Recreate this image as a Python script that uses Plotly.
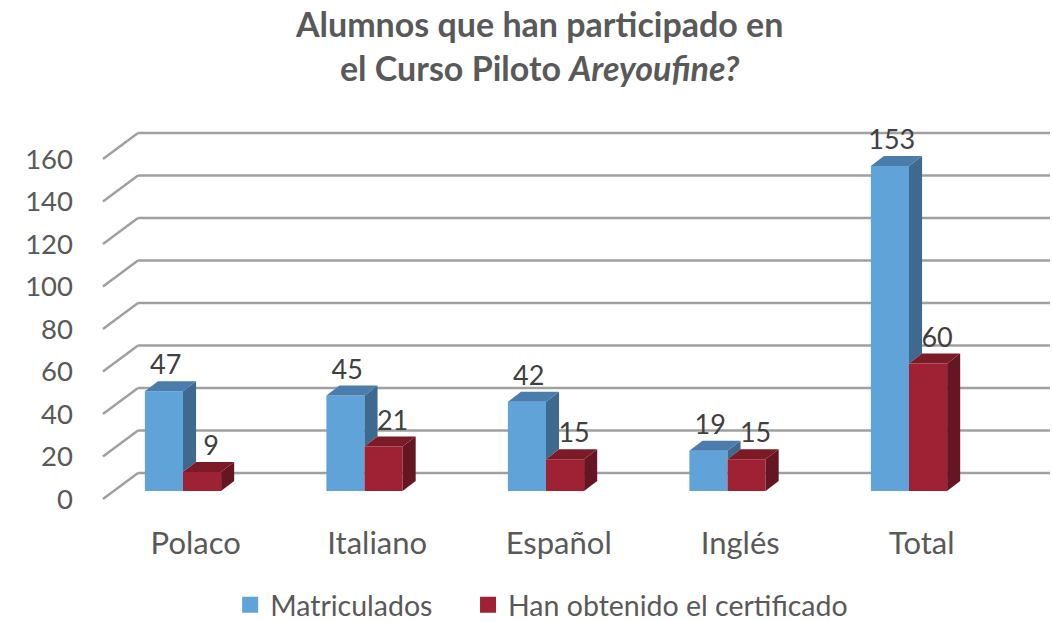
import plotly.graph_objects as go

categories = ["Polaco", "Italiano", "Español", "Inglés", "Total"]
matriculados = [47, 45, 42, 19, 153]
certificado = [9, 21, 15, 15, 60]
y_ticks = [0, 20, 40, 60, 80, 100, 120, 140, 160]
series_names = ["Matriculados", "Han obtenido el certificado"]

FONT = "Lato"
BLUE, BLUE_SIDE, BLUE_TOP = "#5FA3D9", "#3F6A8F", "#4A7DAB"
RED, RED_SIDE, RED_TOP = "#9E2233", "#661622", "#7C1A26"

W = 0.21      # bar width (category units)
DX = 0.072    # depth offset in x
DY = 4.7      # depth offset in y (value units)
xs = list(range(len(categories)))

fig = go.Figure()

# front faces
fig.add_trace(go.Bar(x=xs, y=matriculados, width=W, offset=-W, marker=dict(color=BLUE, line=dict(width=0)),
                     showlegend=False, hoverinfo="skip"))
fig.add_trace(go.Bar(x=xs, y=certificado, width=W, offset=0, marker=dict(color=RED, line=dict(width=0)),
                     showlegend=False, hoverinfo="skip"))


def poly(pts, color):
    px = [p[0] for p in pts] + [pts[0][0]]
    py = [p[1] for p in pts] + [pts[0][1]]
    fig.add_trace(go.Scatter(x=px, y=py, mode="lines", fill="toself", fillcolor=color,
                             line=dict(width=0, color=color), showlegend=False, hoverinfo="skip"))


for i, (m, c) in enumerate(zip(matriculados, certificado)):
    # blue side (visible part above red bar) and top
    poly([(i, c), (i + DX, c + DY), (i + DX, m + DY), (i, m)], BLUE_SIDE)
    poly([(i - W, m), (i - W + DX, m + DY), (i + DX, m + DY), (i, m)], BLUE_TOP)
    # red side and top
    poly([(i + W, 0), (i + W + DX, DY), (i + W + DX, c + DY), (i + W, c)], RED_SIDE)
    poly([(i, c), (i + DX, c + DY), (i + W + DX, c + DY), (i + W, c)], RED_TOP)

# data labels
fig.add_trace(go.Scatter(x=[i - W / 2 + 0.01 for i in xs], y=[m + DY for m in matriculados],
                         mode="text", text=[str(v) for v in matriculados], textposition="top center",
                         textfont=dict(family=FONT, size=27, color="#404040"), showlegend=False,
                         hoverinfo="skip", cliponaxis=False))
fig.add_trace(go.Scatter(x=[i + W / 2 + 0.05 for i in xs], y=[c + DY for c in certificado],
                         mode="text", text=[str(v) for v in certificado], textposition="top center",
                         textfont=dict(family=FONT, size=27, color="#404040"), showlegend=False,
                         hoverinfo="skip", cliponaxis=False))

# legend entries (one legend per series for exact placement)
for name, col, lg in zip(series_names, [BLUE, RED], ["legend", "legend2"]):
    fig.add_trace(go.Scatter(x=[None], y=[None], mode="markers", name=name, legend=lg,
                             marker=dict(symbol="square", size=17, color=col)))

# 3D-style gridlines (back wall + floor diagonal)
X_FRONT, X_BACK, X_RIGHT = -0.441, -0.248, 4.9
BACK_UP = 18 / 2.125
FRONT_DOWN = 8 / 2.125
shapes = []
for v in y_ticks:
    shapes.append(dict(type="line", xref="x", yref="y", layer="below",
                       x0=X_FRONT, y0=v - FRONT_DOWN, x1=X_BACK, y1=v + BACK_UP,
                       line=dict(color="#A0A0A0", width=2.5)))
    shapes.append(dict(type="line", xref="x", yref="y", layer="below",
                       x0=X_BACK, y0=v + BACK_UP, x1=X_RIGHT, y1=v + BACK_UP,
                       line=dict(color="#A0A0A0", width=2.5)))

legend_style = dict(orientation="h", yanchor="middle", y=-0.232, xanchor="left",
                    font=dict(family=FONT, size=28.5, color="#595959"), itemwidth=30,
                    bgcolor="rgba(0,0,0,0)")

fig.update_layout(
    width=1052, height=621,
    margin=dict(l=100, r=2, t=100, b=111, autoexpand=False),
    paper_bgcolor="white", plot_bgcolor="white",
    barmode="overlay",
    shapes=shapes,
    title=dict(text="Alumnos que han participado en<br>el Curso Piloto <i>Areyoufine?</i>",
               x=0.513, xref="container", xanchor="center", y=0.94, yref="container", yanchor="top",
               font=dict(family=FONT, size=34, color="#595959", weight="bold")),
    xaxis=dict(range=[-0.4573, 4.7769], tickvals=[i + 0.07 for i in xs], ticktext=categories,
               showgrid=False, zeroline=False, showline=False, ticks="", automargin=False,
               tickfont=dict(family=FONT, size=31, color="#595959"), ticklabelstandoff=12),
    yaxis=dict(range=[-8.94, 184.0], tickvals=y_ticks, showgrid=False, zeroline=False,
               showline=False, ticks="", ticklabelshift=8, ticklabelstandoff=26, automargin=False,
               tickfont=dict(family=FONT, size=27.5, color="#595959")),
    legend=dict(x=0.137, **legend_style),
    legend2=dict(x=0.3874, **legend_style),
)

fig.write_html("out.html", config={"displayModeBar": False},
               post_script="document.body.style.margin='0';")
